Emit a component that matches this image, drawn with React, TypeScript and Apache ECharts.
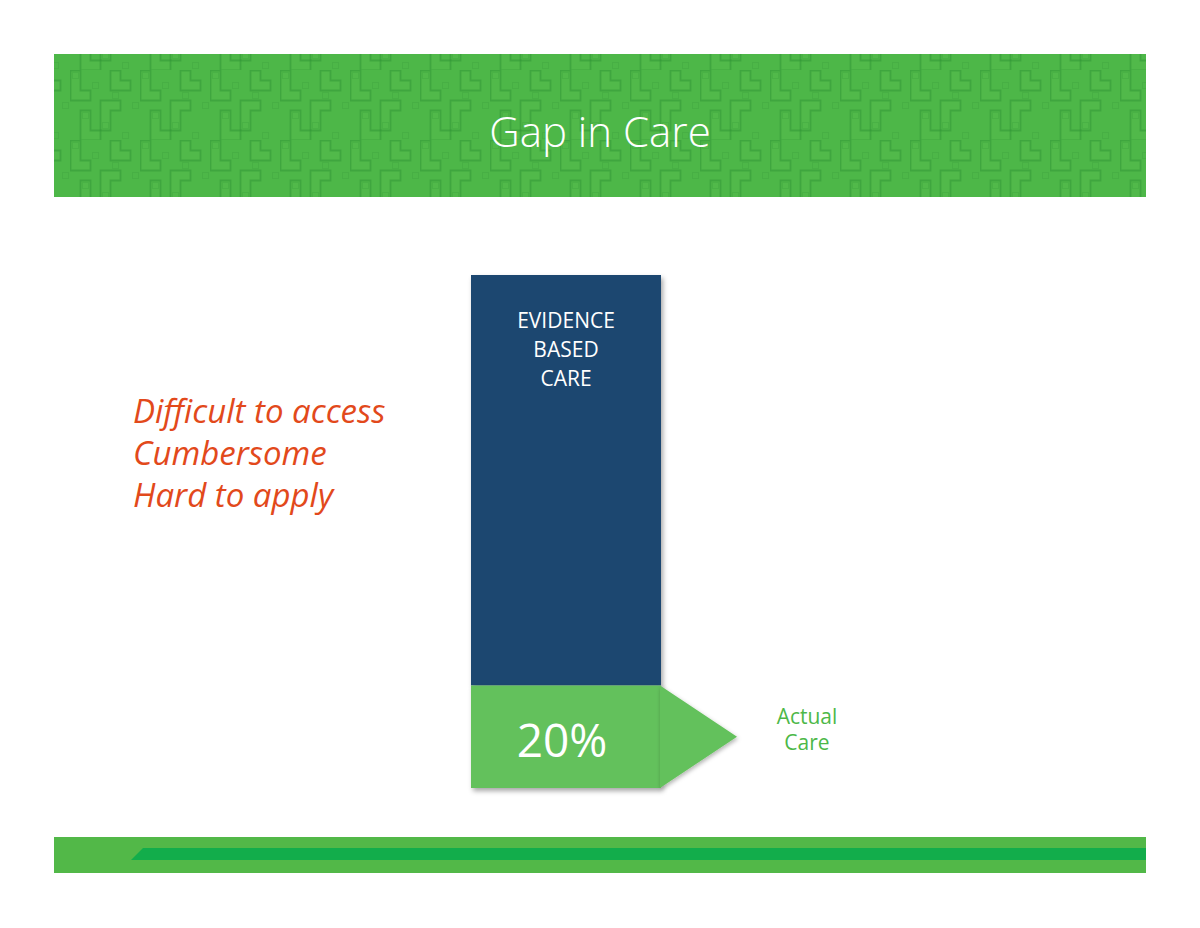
import React, { useEffect, useRef } from 'react';
import * as echarts from 'echarts';

const TITLE = 'Gap in Care';
const CATEGORIES = ['Care'];
const ACTUAL_CARE = [20];
const CARE_GAP = [80];
const BAR_LABEL = ['EVIDENCE', 'BASED', 'CARE'];
const ARROW_LABEL = ['Actual', 'Care'];
const BARRIERS = ['Difficult to access', 'Cumbersome', 'Hard to apply'];

const NAVY = '#1f4770';
const BAR_GREEN = '#63c15b';
const HEADER_GREEN = '#4db748';
const TEXT_ORANGE = '#e2491b';
const BAR_WIDTH = 190;
const ARROW_LEN = 76;

function makePattern(): HTMLCanvasElement {
  const c = document.createElement('canvas');
  const U = 10;
  c.width = U * 7;
  c.height = U * 7;
  const ctx = c.getContext('2d')!;
  const shapes: number[][][] = [
    [[0, 0], [1, 0], [1, 2], [2, 2], [2, 3], [0, 3]],
    [[3, 3], [5, 3], [5, 4], [4, 4], [4, 6], [3, 6]],
    [[4, 0], [5, 0], [5, 1], [6, 1], [6, 2], [4, 2]],
    [[1, 4], [2, 4], [2, 6], [3, 6], [3, 7], [1, 7]],
  ];
  ctx.lineWidth = 1.8;
  shapes.forEach((pts) => {
    ctx.beginPath();
    pts.forEach(([px, py], i) => {
      const X = px * U + 0.5;
      const Y = py * U + 0.5;
      if (i === 0) ctx.moveTo(X, Y);
      else ctx.lineTo(X, Y);
    });
    ctx.closePath();
    ctx.fillStyle = 'rgba(90,190,80,0.3)';
    ctx.fill();
    ctx.strokeStyle = 'rgba(45,145,50,0.45)';
    ctx.stroke();
  });
  ctx.strokeStyle = 'rgba(45,145,50,0.2)';
  ctx.lineWidth = 1;
  for (let i = 0; i < 7; i++) {
    ctx.strokeRect(((i * 3) % 7) * U + 2.5, ((i * 5) % 7) * U + 2.5, U - 4, U - 4);
  }
  return c;
}

export default function App() {
  const ref = useRef<HTMLDivElement>(null);

  useEffect(() => {
    document.body.style.margin = '0';
    const chart = echarts.init(ref.current!, undefined, { renderer: 'svg' });
    let patternFill: any = HEADER_GREEN;
    try {
      patternFill = { image: makePattern(), repeat: 'repeat' };
    } catch (e) {
      patternFill = HEADER_GREEN;
    }

    const shadow = {
      shadowColor: 'rgba(0,0,0,0.35)',
      shadowBlur: 5,
      shadowOffsetX: 2,
      shadowOffsetY: 3,
    };

    const option: any = {
      animation: false,
      backgroundColor: '#ffffff',
      grid: { left: 371, right: 439, top: 275, bottom: 140 },
      xAxis: { type: 'category', data: CATEGORIES, show: false },
      yAxis: { type: 'value', min: 0, max: 100, show: false },
      graphic: [
        { type: 'rect', shape: { x: 54, y: 54, width: 1092, height: 143 }, style: { fill: HEADER_GREEN }, z: 0 },
        { type: 'rect', shape: { x: 54, y: 54, width: 1092, height: 143 }, style: { fill: patternFill }, z: 0 },
        {
          type: 'text', x: 600, y: 130, z: 1,
          style: { text: TITLE, fill: '#ffffff', fontSize: 42, fontWeight: 300, fontFamily: '"Open Sans", sans-serif', align: 'center', verticalAlign: 'middle' },
        },
        ...BARRIERS.map((t, i) => ({
          type: 'text', x: 133, y: 410 + i * 42, z: 1,
          style: { text: t, fill: TEXT_ORANGE, fontSize: 33, fontStyle: 'italic', fontFamily: '"Open Sans", sans-serif', align: 'left', verticalAlign: 'middle' },
        })),
        { type: 'rect', shape: { x: 54, y: 837, width: 1092, height: 36 }, style: { fill: '#52b848' }, z: 0 },
        { type: 'polygon', shape: { points: [[131, 860], [143, 848], [1146, 848], [1146, 860]] }, style: { fill: '#12ad4b' }, z: 0 },
      ],
      series: [
        {
          type: 'bar',
          name: 'Actual Care',
          stack: 'care',
          data: ACTUAL_CARE,
          barWidth: BAR_WIDTH,
          itemStyle: { color: BAR_GREEN, ...shadow },
          label: {
            show: true, position: 'inside', offset: [-4, 2],
            formatter: (p: any) => p.value + '%',
            color: '#ffffff', fontSize: 46, fontFamily: '"Open Sans", sans-serif',
          },
          z: 3,
        },
        {
          type: 'bar',
          name: 'Evidence Based Care',
          stack: 'care',
          data: CARE_GAP,
          barWidth: BAR_WIDTH,
          itemStyle: { color: NAVY, ...shadow },
          label: {
            show: true, position: 'insideTop', distance: 30,
            formatter: BAR_LABEL.join('\n'),
            color: '#ffffff', fontSize: 21, lineHeight: 29, align: 'center', fontFamily: '"Open Sans", sans-serif',
          },
          z: 2,
        },
        {
          type: 'custom',
          name: 'arrow',
          data: CATEGORIES.map((c, i) => [i, ACTUAL_CARE[i]]),
          z: 4,
          renderItem: (params: any, api: any) => {
            const p0 = api.coord([api.value(0), 0]);
            const p1 = api.coord([api.value(0), api.value(1)]);
            const right = p0[0] + BAR_WIDTH / 2;
            const mid = (p0[1] + p1[1]) / 2;
            const tip = right + ARROW_LEN;
            return {
              type: 'group',
              children: [
                {
                  type: 'polygon',
                  shape: { points: [[right - 1, p1[1]], [tip, mid], [right - 1, p0[1]]] },
                  style: { fill: BAR_GREEN, shadowColor: 'rgba(0,0,0,0.3)', shadowBlur: 4, shadowOffsetX: 1, shadowOffsetY: 2 },
                },
                {
                  type: 'text',
                  x: tip + 70,
                  y: mid - 8,
                  style: {
                    text: ARROW_LABEL.join('\n'), fill: '#4db848', fontSize: 21, lineHeight: 26,
                    fontFamily: '"Open Sans", sans-serif', align: 'center', verticalAlign: 'middle',
                  },
                },
              ],
            };
          },
        },
      ],
    };
    chart.setOption(option);
    return () => chart.dispose();
  }, []);

  return <div ref={ref} style={{ width: 1200, height: 928 }} />;
}
